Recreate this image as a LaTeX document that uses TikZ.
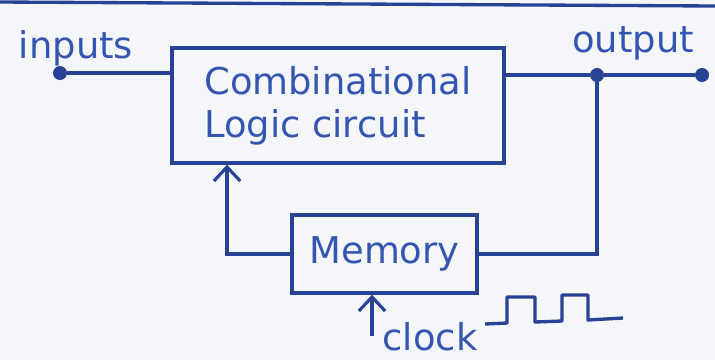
\documentclass[tikz,border=0pt]{standalone}
\usepackage{fontspec}
\setmainfont{DejaVu Sans}
\usepackage{tikz}
\usetikzlibrary{arrows.meta, positioning, calc}
\definecolor{myink}{RGB}{40,66,150}
\definecolor{mypen}{RGB}{52,86,176}
\definecolor{mypaper}{RGB}{245,246,249}
\tikzset{
  block/.style={rectangle, draw=myink, line width=1.9pt, inner sep=0pt,
    font=\fontsize{21}{24.5}\selectfont, text=mypen},
  arrow/.style={-{Straight Barb[length=8pt,width=15pt,line width=1.8pt]}, line width=1.8pt, color=myink},
  line/.style={line width=1.9pt, color=myink},
  wdot/.style={circle, fill=myink, inner sep=0pt, minimum size=0.28cm},
  lbl/.style={font=\fontsize{21}{24.5}\selectfont, text=mypen, inner sep=0pt}
}

\begin{document}
\begin{tikzpicture}[x=0.02cm, y=-0.02cm]
  \fill [mypaper] (0,0) rectangle (715,360);
  \useasboundingbox (0,0) rectangle (715,360);
  \draw [line] (0,2) -- (715,6);

  \node [block, minimum width=6.64cm, minimum height=2.3cm, align=left] (clc) at (338,105.5) {Combinational\\Logic circuit};
  \node [block, minimum width=3.7cm, minimum height=1.56cm] (mem) at (384.5,254) {Memory};

  \node [wdot] (in) at (60,73) {};
  \node [wdot] (jn) at (597,75) {};
  \node [wdot] (out) at (702,75) {};
  \node [lbl] (inlbl) at (76,48) {inputs};
  \node [lbl] (outlbl) at (633,43) {output};
  \coordinate (clk) at (372,336);
  \node [lbl] (clklbl) at (430,337) {clock};

  \draw [line] (in) -- (in -| clc.west);
  \draw [line] (clc.east |- jn) -- (jn) -- (out);
  \draw [line] (jn) -- (jn |- mem.east) -- (mem.east);
  \draw [arrow] (mem.west) -| ($(clc.south west)!0.169!(clc.south east)$);
  \draw [arrow] (clk) -- (clk |- mem.south);

  % clock pulses
  \draw [line, line join=round] (485,324) -- (507,323) -- (507,297) -- (535,297) -- (535,322)
    -- (562,321) -- (562,295) -- (588,295) -- (588,320) -- (623,318);
\end{tikzpicture}
\end{document}
